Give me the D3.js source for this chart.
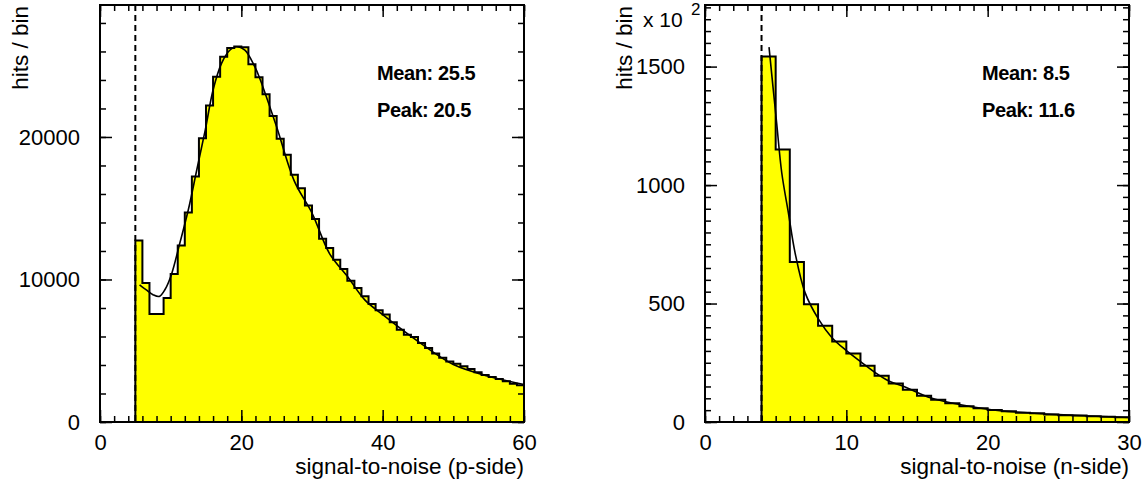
<!doctype html>
<html lang="en">
<head>
    <title>signal-to-noise</title>
    <script src="https://d3js.org/d3.v7.min.js"></script>
    <style type="text/css">
        body { margin: 0; background: #fff; }
        text { font-family: "Liberation Sans", Arial, Helvetica, sans-serif; fill: #000; }
        .stat { font-weight: bold; font-size: 20px; letter-spacing: -0.4px; }
    </style>
</head>

<body>
</body>

<script type="text/javascript">

    // p-side histogram: bins of width 1 starting at 5
    var pStart = 5;
    var pHits = [12740, 9755, 7580, 7580, 8700, 10385, 12390, 14700, 17225, 19915,
                 22200, 24230, 25630, 26250, 26350, 26300, 25100, 24190, 23000, 21480,
                 19870, 18745, 17345, 16410, 15195, 14240, 12860, 12205, 11390, 10735,
                 9915, 9400, 8815, 8280, 7835, 7535, 6995, 6480, 6130, 5970,
                 5550, 5200, 4800, 4500, 4240, 4080, 3910, 3725, 3490, 3305,
                 3165, 3025, 2860, 2680, 2580];
    var pFitX = [5.6, 6.5, 7.5, 8.4, 9.2, 10.1, 11.3, 12.5, 13.7, 14.9, 16.0, 17.2, 18.4, 19.25,
                 20.5, 21.9, 22.6, 25, 27.5, 30, 32.5, 35, 37.5, 40, 45, 50, 55, 60];
    var pFitY = [9630, 9285, 8935, 8815, 9300, 10340, 12560, 14890, 17700, 20500, 23300, 25170, 26100, 26330,
                 26100, 24930, 24120, 20700, 16900, 14660, 11800, 10220, 8550, 7535, 5660, 4030, 3210, 2630];

    // n-side histogram (x 10^2): bins of width 1 starting at 4
    var nStart = 4;
    var nHits = [1543, 1150, 675, 497, 406, 340, 289, 237, 195, 163,
                 136, 111, 94, 79, 66, 58, 51, 45, 39, 37,
                 32, 29, 27, 24, 22, 20];
    var nFitX = [4.53, 4.83, 5.07, 5.43, 5.9, 6.37, 7.08, 8.03, 8.97, 10.03,
                 11.09, 12.03, 12.97, 14.03, 16, 18, 20, 22, 25, 30];
    var nFitY = [1582, 1403, 1262, 1052, 883, 715, 546, 434, 357, 300,
                 251, 209, 174, 151, 101, 74, 54, 42, 31, 19];

    var svg = d3.select("body")
                .append("svg")
                .attr("width", 1146)
                .attr("height", 484);

    function panel(o) {
        var x = d3.scaleLinear().domain(o.xDomain).range([o.left, o.right]);
        var y = d3.scaleLinear().domain(o.yDomain).range([o.bottom, o.top]);
        var g = svg.append("g");

        // histogram points for a step curve
        var pts = [{x: o.xDomain[0], v: 0}];
        o.hits.forEach((h, i) => pts.push({x: o.start + i, v: h}));
        pts.push({x: o.start + o.hits.length, v: o.hits[o.hits.length - 1]});

        g.append("path")
         .datum(pts)
         .attr("d", d3.area().curve(d3.curveStepAfter)
                     .x(d => x(d.x)).y0(y(0)).y1(d => y(d.v)))
         .style("fill", "#ffff00");

        g.append("line")
         .attr("x1", x(o.start)).attr("x2", x(o.start))
         .attr("y1", o.top).attr("y2", y(0))
         .style("stroke", "#000").style("stroke-width", 2)
         .style("stroke-dasharray", "6,4");

        g.append("path")
         .datum(pts)
         .attr("d", d3.line().curve(d3.curveStepAfter).x(d => x(d.x)).y(d => y(d.v)))
         .style("fill", "none").style("stroke", "#000").style("stroke-width", 2);

        var fit = o.fitX.map((fx, i) => [fx, o.fitY[i]]);
        g.append("path")
         .datum(fit)
         .attr("d", d3.line().curve(d3.curveCatmullRom).x(d => x(d[0])).y(d => y(d[1])))
         .style("fill", "none").style("stroke", "#000").style("stroke-width", 1.6);

        // ticks on all four sides, pointing inwards
        function axes(axisFn, scale, pos, ticks, size, labels, pad) {
            var a = axisFn(scale).tickValues(ticks).tickSize(-size).tickPadding(pad)
                                 .tickFormat(labels ? d3.format("d") : "");
            var ax = g.append("g").attr("transform", pos).call(a);
            ax.select(".domain").remove();
            ax.selectAll("line").style("stroke", "#000").style("stroke-width", 1.5);
            ax.selectAll("text").style("font-size", "22px").attr("font-family", null);
        }
        var xMinor = d3.range(o.xDomain[0], o.xDomain[1] + 1e-9, o.xMinor);
        var yMinor = d3.range(0, o.yDomain[1], o.yMinor);
        axes(d3.axisBottom, x, "translate(0," + o.bottom + ")", xMinor, 6, false, 0);
        axes(d3.axisBottom, x, "translate(0," + o.bottom + ")", o.xMajor, 12, true, 12);
        axes(d3.axisTop, x, "translate(0," + o.top + ")", xMinor, 6, false, 0);
        axes(d3.axisTop, x, "translate(0," + o.top + ")", o.xMajor, 12, false, 0);
        axes(d3.axisLeft, y, "translate(" + o.left + ",0)", yMinor, 6, false, 0);
        axes(d3.axisLeft, y, "translate(" + o.left + ",0)", o.yMajor, 12, true, 20);
        axes(d3.axisRight, y, "translate(" + o.right + ",0)", yMinor, 6, false, 0);
        axes(d3.axisRight, y, "translate(" + o.right + ",0)", o.yMajor, 12, false, 0);

        g.append("rect")
         .attr("x", o.left).attr("y", o.top)
         .attr("width", o.right - o.left).attr("height", o.bottom - o.top)
         .style("fill", "none").style("stroke", "#000").style("stroke-width", 2);

        g.append("text").attr("class", "stat").attr("x", o.statX).attr("y", 80).text(o.mean);
        g.append("text").attr("class", "stat").attr("x", o.statX).attr("y", 117).text(o.peak);

        g.append("text")
         .attr("x", o.right).attr("y", 474)
         .attr("text-anchor", "end")
         .style("font-size", "22.5px")
         .text(o.xTitle);

        g.append("text")
         .attr("transform", "translate(" + o.yTitleX + ",6) rotate(-90)")
         .attr("text-anchor", "end")
         .style("font-size", "22.5px")
         .text("hits / bin");
    }

    panel({
        left: 100, right: 524, top: 5, bottom: 422,
        xDomain: [0, 60], yDomain: [0, 29260],
        xMajor: [0, 20, 40, 60], xMinor: 2,
        yMajor: [0, 10000, 20000], yMinor: 2000,
        start: pStart, hits: pHits, fitX: pFitX, fitY: pFitY,
        statX: 377, mean: "Mean: 25.5", peak: "Peak: 20.5",
        xTitle: "signal-to-noise (p-side)", yTitleX: 28
    });

    panel({
        left: 705, right: 1129, top: 5, bottom: 422,
        xDomain: [0, 30], yDomain: [0, 1760],
        xMajor: [0, 10, 20, 30], xMinor: 1,
        yMajor: [0, 500, 1000, 1500], yMinor: 50,
        start: nStart, hits: nHits, fitX: nFitX, fitY: nFitY,
        statX: 982, mean: "Mean: 8.5", peak: "Peak: 11.6",
        xTitle: "signal-to-noise (n-side)", yTitleX: 632
    });

    // exponent of the n-side y axis
    var ex = svg.append("text").attr("x", 643).attr("y", 27).style("font-size", "21px");
    ex.append("tspan").text("x 10");
    ex.append("tspan").attr("x", 691).attr("y", 15).style("font-size", "17px").text("2");

</script>

</html>
